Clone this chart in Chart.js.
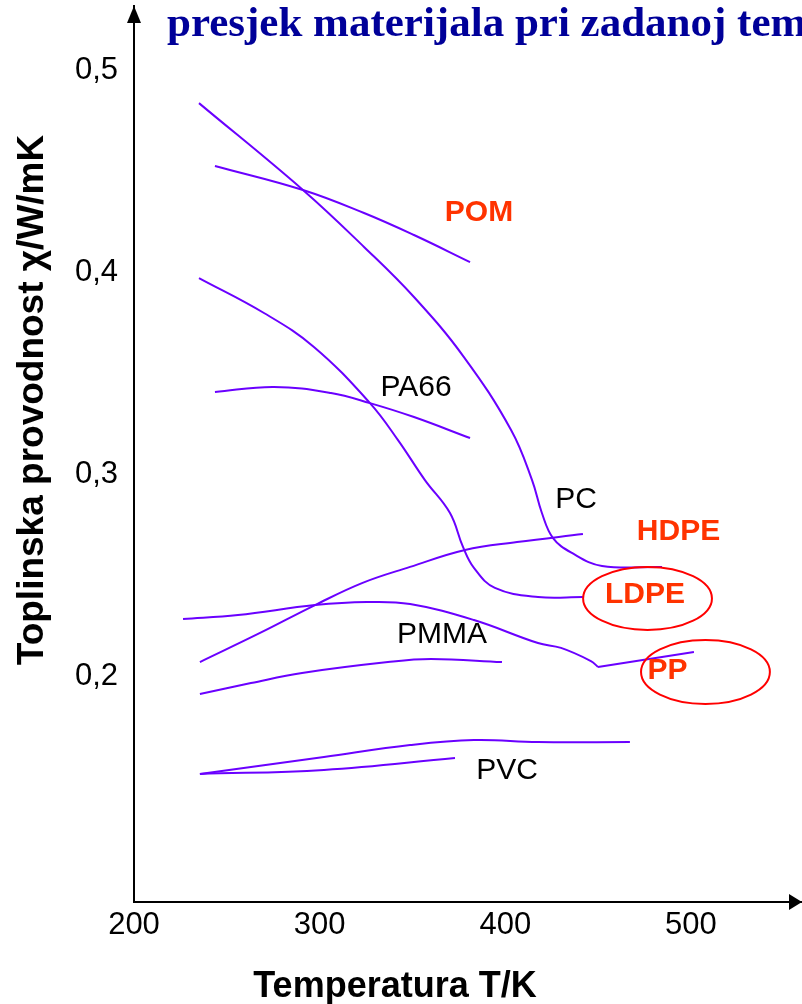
<!doctype html>
<html>
<head>
  <meta charset="utf-8" />
  <title>Toplinska provodnost polimera</title>
  <style>
    html, body { margin:0; padding:0; background:#fff; }
    #wrap { width:802px; height:1004px; }
  </style>
  <script src="https://cdn.jsdelivr.net/npm/chart.js"></script>
</head>
<body>
<div id="wrap"><canvas id="chart" width="802" height="1004"></canvas></div>
<script>
// values: temperature T (K) and conductivity (W/mK)
const hdpeT = [235.0, 291.0, 323.9, 350.8, 377.7, 403.1, 414.4, 419.7, 425.7, 435.9, 452.1, 484.4];
const hdpeK = [0.4836, 0.4406, 0.4124, 0.3876, 0.3579, 0.3218, 0.2970, 0.2807, 0.2683, 0.2609, 0.2545, 0.2540];
const pomT = [243.6, 291.0, 323.9, 350.8, 381.0];
const pomK = [0.4525, 0.4406, 0.4292, 0.4183, 0.4049];
const ldpeT = [235.0, 270.0, 296.9, 327.1, 342.2, 356.7, 370.2, 377.2, 383.1, 394.4, 417.6, 441.8];
const ldpeK = [0.3970, 0.3797, 0.3629, 0.3351, 0.3168, 0.2970, 0.2807, 0.2639, 0.2535, 0.2436, 0.2391, 0.2391];
const pa66T = [243.6, 275.4, 306.1, 327.1, 350.8, 381.0];
const pa66K = [0.3406, 0.3431, 0.3401, 0.3351, 0.3282, 0.3178];
const pcT = [235.5, 267.9, 297.5, 322.8, 348.7, 378.3, 406.3, 441.8];
const pcK = [0.2069, 0.2213, 0.2351, 0.2460, 0.2540, 0.2624, 0.2663, 0.2703];
const ppT = [226.4, 256.0, 297.5, 325.5, 348.7, 383.1, 417.6, 430.0, 446.1, 449.9];
const ppK = [0.2282, 0.2302, 0.2351, 0.2366, 0.2356, 0.2277, 0.2163, 0.2139, 0.2074, 0.2045];
const ppMeltT = [449.9, 501.6];
const ppMeltK = [0.2045, 0.2119];
const pmmaT = [235.5, 263.0, 290.5, 336.8, 360.0, 398.2];
const pmmaK = [0.1911, 0.1965, 0.2015, 0.2069, 0.2084, 0.2069];
const pvcAT = [235.5, 302.3, 348.7, 383.1, 417.6, 467.1];
const pvcAK = [0.1515, 0.1599, 0.1658, 0.1683, 0.1673, 0.1673];
const pvcBT = [235.5, 302.3, 372.9];
const pvcBK = [0.1515, 0.1535, 0.1594];

const xTicks = [200, 300, 400, 500];
const yTicks = [0.2, 0.3, 0.4, 0.5];

// labels next to the curves
const markedNames = ['POM', 'HDPE', 'LDPE', 'PP'];
const markedT = [385.8, 493.3, 475.2, 487.3];
const markedK = [0.4292, 0.2715, 0.2401, 0.2025];
const plainNames = ['PA66', 'PC', 'PMMA', 'PVC'];
const plainT = [351.9, 438.1, 365.9, 400.9];
const plainK = [0.3426, 0.2874, 0.2203, 0.1530];

// circled materials: centre and half extent in data units
const circleT = [476.6, 507.8];
const circleK = [0.2384, 0.2020];
const circleHalfT = [34.7, 34.7];
const circleHalfK = [0.0156, 0.0158];

const violet = '#6a00ff';
const sans = '"Liberation Sans", Arial, sans-serif';
Chart.defaults.font.family = sans;

function series(name, ts, ks, straight) {
  return {
    label: name,
    data: ts.map((t, i) => ({ x: t, y: ks[i] })),
    showLine: true,
    borderColor: violet,
    borderWidth: 2,
    pointRadius: 0,
    fill: false,
    tension: straight ? 0 : 0.4
  };
}

const sketchPlugin = {
  id: 'sketch',
  afterDatasetsDraw(chart) {
    const ctx = chart.ctx;
    const xs = chart.scales.x, ys = chart.scales.y;
    const area = chart.chartArea;
    ctx.save();

    // red ellipses
    ctx.strokeStyle = '#ff0000';
    ctx.lineWidth = 2;
    circleT.forEach((t, i) => {
      const cx = xs.getPixelForValue(t), cy = ys.getPixelForValue(circleK[i]);
      const rx = xs.getPixelForValue(t + circleHalfT[i]) - cx;
      const ry = cy - ys.getPixelForValue(circleK[i] + circleHalfK[i]);
      ctx.beginPath();
      ctx.ellipse(cx, cy, rx, ry, 0, 0, Math.PI * 2);
      ctx.stroke();
    });

    // curve labels
    ctx.textAlign = 'center';
    ctx.textBaseline = 'middle';
    ctx.fillStyle = '#ff3300';
    ctx.font = 'bold 30px ' + sans;
    markedNames.forEach((n, i) => ctx.fillText(n, xs.getPixelForValue(markedT[i]), ys.getPixelForValue(markedK[i])));
    ctx.fillStyle = '#000';
    ctx.font = '30px ' + sans;
    plainNames.forEach((n, i) => ctx.fillText(n, xs.getPixelForValue(plainT[i]), ys.getPixelForValue(plainK[i])));

    // axis arrows
    ctx.fillStyle = '#000';
    ctx.beginPath();
    ctx.moveTo(area.left, area.top);
    ctx.lineTo(area.left - 7, area.top + 17);
    ctx.lineTo(area.left + 7, area.top + 17);
    ctx.closePath();
    ctx.fill();
    ctx.beginPath();
    ctx.moveTo(area.right, area.bottom);
    ctx.lineTo(area.right - 13, area.bottom - 8);
    ctx.lineTo(area.right - 13, area.bottom + 8);
    ctx.closePath();
    ctx.fill();

    // axis titles
    ctx.font = 'bold 36px ' + sans;
    ctx.textAlign = 'center';
    ctx.textBaseline = 'alphabetic';
    ctx.fillText('Temperatura T/K', 395, 997);
    ctx.save();
    ctx.translate(43, 400);
    ctx.rotate(-Math.PI / 2);
    ctx.font = 'bold 37px ' + sans;
    ctx.fillText('Toplinska provodnost \u03C7/W/mK', 0, 0);
    ctx.restore();

    // slide heading, cut by the right edge as on the slide
    ctx.textAlign = 'left';
    ctx.fillStyle = '#000099';
    ctx.font = 'bold 43px "Liberation Serif", "Times New Roman", serif';
    ctx.fillText('presjek materijala pri zadanoj temperaturi', 167, 36);
    ctx.restore();
  }
};

new Chart(document.getElementById('chart'), {
  type: 'scatter',
  data: {
    datasets: [
      series('HDPE', hdpeT, hdpeK),
      series('POM', pomT, pomK),
      series('LDPE', ldpeT, ldpeK),
      series('PA66', pa66T, pa66K),
      series('PC', pcT, pcK),
      series('PP', ppT, ppK),
      series('PP taljevina', ppMeltT, ppMeltK, true),
      series('PMMA', pmmaT, pmmaK),
      series('PVC', pvcAT, pvcAK),
      series('PVC', pvcBT, pvcBK)
    ]
  },
  options: {
    responsive: false,
    animation: false,
    layout: { padding: { top: 6, left: 0, right: 0, bottom: 0 } },
    plugins: { legend: { display: false }, tooltip: { enabled: false } },
    scales: {
      x: {
        type: 'linear', position: 'bottom', min: 200, max: 559.8,
        afterBuildTicks: s => { s.ticks = xTicks.map(v => ({ value: v })); },
        afterFit: s => { s.height = 102; s.paddingLeft = 0; s.paddingRight = 0; },
        grid: { display: false, drawTicks: false, tickLength: 0 },
        border: { display: true, color: '#000', width: 2 },
        ticks: { color: '#000', font: { size: 31 }, padding: 5, maxRotation: 0, autoSkip: false }
      },
      y: {
        type: 'linear', position: 'left', min: 0.08812, max: 0.53168,
        afterBuildTicks: s => { s.ticks = yTicks.map(v => ({ value: v })); },
        afterFit: s => { s.width = 134; s.paddingTop = 0; s.paddingBottom = 0; },
        grid: { display: false, drawTicks: false, tickLength: 0 },
        border: { display: true, color: '#000', width: 2 },
        ticks: { color: '#000', font: { size: 31 }, padding: 16, autoSkip: false,
                 callback: v => String(v).replace('.', ',') }
      }
    }
  },
  plugins: [sketchPlugin]
});
</script>
</body>
</html>
